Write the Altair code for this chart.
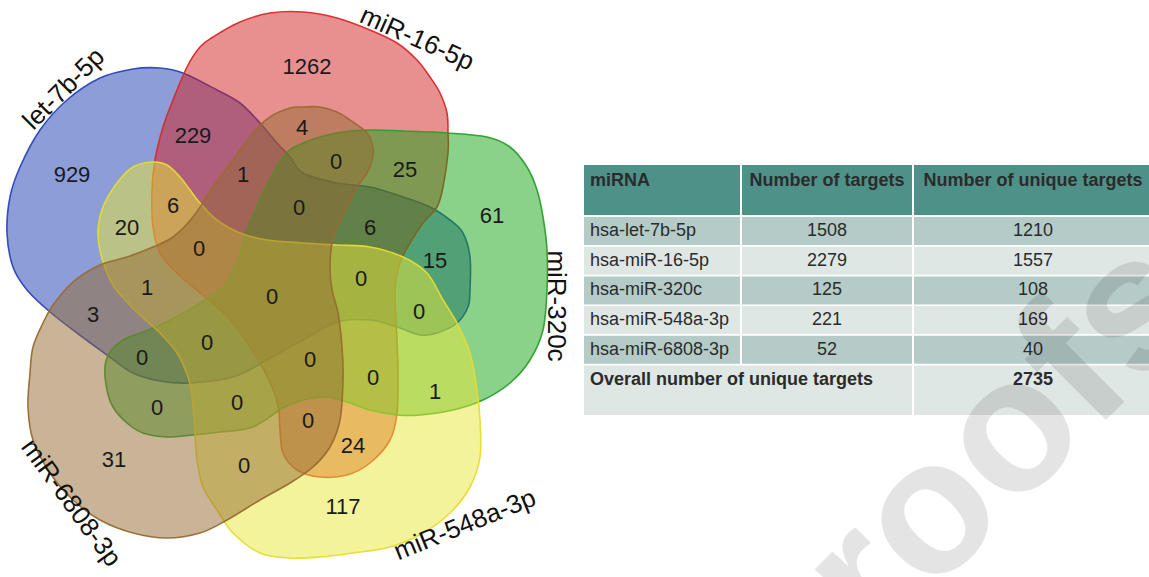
import altair as alt
import pandas as pd

W, H = 1149, 577
FONT = "Liberation Sans"

# ---------------- Venn outlines (closed smooth curves through control points) ----------------
blue_x = [160, 183, 217, 240, 260, 277, 290, 303, 337, 370, 403, 430, 450, 463, 470, 470, 468, 457, 437, 420,
          397, 370, 337, 303, 290, 267, 233, 190, 160, 133, 107, 77, 50, 27, 13, 7, 10, 20, 40, 67, 100, 133]
blue_y = [68, 73, 90, 103, 123, 143, 157, 173, 183, 187, 197, 207, 220, 233, 257, 290, 307, 323, 333, 335,
          327, 320, 322, 340, 347, 360, 377, 383, 381, 373, 355, 333, 312, 290, 267, 233, 197, 167, 130, 100, 78, 69]

red_x = [187, 200, 213, 240, 270, 303, 337, 370, 397, 417, 430, 440, 447, 448, 448, 443, 437, 423, 410, 400,
         395, 396, 398, 397, 390, 370, 347, 320, 297, 283, 280, 278, 268, 252, 233, 217, 200, 177, 160, 153,
         152, 155, 163, 173]
red_y = [67, 47, 37, 22, 13, 12, 18, 30, 43, 60, 77, 93, 113, 133, 153, 187, 207, 223, 243, 263,
         290, 320, 370, 413, 440, 463, 475, 477, 470, 453, 430, 405, 378, 350, 323, 307, 293, 273, 253, 227,
         190, 160, 127, 100]

green_x = [283, 303, 337, 370, 403, 447, 487, 510, 527, 537, 543, 547, 547, 543, 530, 510, 483, 453, 420, 397,
           370, 347, 327, 303, 283, 253, 220, 193, 167, 143, 127, 113, 107, 105, 110, 123, 140, 160, 185, 205,
           225, 238, 245, 262]
green_y = [157, 143, 133, 130, 131, 133, 137, 147, 167, 190, 217, 250, 290, 330, 360, 383, 400, 410, 415, 415,
           410, 402, 397, 400, 408, 427, 432, 435, 437, 433, 423, 407, 390, 367, 352, 340, 333, 325, 312, 300,
           285, 260, 235, 195]

yellow_x = [153, 167, 180, 190, 200, 217, 240, 267, 303, 337, 370, 403, 427, 443, 457, 470, 477, 480, 480, 470,
            450, 423, 390, 353, 320, 290, 260, 233, 217, 203, 197, 195, 192, 188, 177, 160, 143, 127, 113, 103,
            98, 103, 117, 133]
yellow_y = [162, 165, 177, 190, 203, 220, 233, 240, 243, 245, 247, 257, 273, 300, 323, 353, 390, 420, 457, 487,
            513, 533, 547, 553, 557, 558, 553, 533, 510, 487, 460, 433, 397, 377, 353, 333, 318, 302, 285, 262,
            233, 207, 183, 167]

brown_x = [290, 303, 320, 337, 353, 367, 373, 372, 367, 357, 347, 337, 332, 330, 332, 338, 342, 343, 340, 330,
           313, 290, 260, 227, 200, 167, 133, 100, 73, 50, 33, 28, 30, 33, 43, 53, 73, 100, 127, 153,
           173, 193, 213, 233, 253, 270]
brown_y = [108, 107, 107, 112, 122, 133, 147, 160, 173, 187, 207, 227, 243, 267, 290, 313, 347, 380, 420, 447,
           467, 483, 500, 520, 533, 538, 533, 520, 500, 473, 440, 407, 373, 347, 323, 305, 282, 265, 257, 247,
           237, 217, 187, 160, 133, 117]

# set name, outline, fill, stroke (drawing order)
set_names = ["let-7b-5p", "miR-16-5p", "miR-320c", "miR-548a-3p", "miR-6808-3p"]
set_fills = ["#1a3cb0", "#d21f1f", "#16a316", "#e8e838", "#946a32"]
set_strokes = ["#2a46b8", "#d82a2a", "#2aa02a", "#e6dc30", "#9a6a30"]
outlines = [(blue_x, blue_y), (red_x, red_y), (green_x, green_y), (yellow_x, yellow_y), (brown_x, brown_y)]

# set label placement
set_label_x = [64, 417, 556, 465, 71]
set_label_y = [89, 39, 306, 525, 503]
set_label_angle = [315, 24, 90, 338, 54]

# region counts
region_counts = [929, 229, 1262, 4, 0, 25, 61, 1, 6, 20, 0, 6, 15, 0, 0, 1, 0, 0, 3, 0,
                 0, 0, 0, 1, 0, 0, 0, 24, 31, 0, 117]
region_x = [72, 193, 307, 302, 336, 405, 492, 243, 173, 127, 299, 370, 435, 199, 361, 147, 272, 419, 93, 207,
            310, 142, 373, 435, 157, 237, 308, 353, 114, 244, 343]
region_y = [175, 136, 67, 128, 162, 170, 216, 175, 206, 228, 208, 228, 261, 249, 279, 288, 297, 312, 315, 343,
            360, 358, 378, 392, 408, 403, 421, 446, 460, 466, 507]

# ---------------- summary table ----------------
table_header = ["miRNA", "Number of targets", "Number of unique targets"]
mirna = ["hsa-let-7b-5p", "hsa-miR-16-5p", "hsa-miR-320c", "hsa-miR-548a-3p", "hsa-miR-6808-3p"]
n_targets = [1508, 2279, 125, 221, 52]
n_unique = [1210, 1557, 108, 169, 40]
overall_label = "Overall number of unique targets"
overall_unique = 2735

watermark = "Proofs"

X = alt.X("x:Q", scale=alt.Scale(domain=[0, W], nice=False, zero=False), axis=None)
Y = alt.Y("y:Q", scale=alt.Scale(domain=[0, H], nice=False, zero=False, reverse=True), axis=None)

layers = []

# table cells
col_edges = [584, 741, 913, 1160]
head_top, head_bot = 165, 215
row_top0, row_step, row_h = 217, 29.7, 28
cells = []
for c in range(3):
    cells.append(dict(x=col_edges[c] + (1 if c else 0), x2=col_edges[c + 1] - 1, y=head_top, y2=head_bot, fill="#4e9189"))
for r in range(len(mirna)):
    t = row_top0 + r * row_step
    color = "#b4cbc7" if r % 2 == 0 else "#dfe7e5"
    for c in range(3):
        cells.append(dict(x=col_edges[c] + (1 if c else 0), x2=col_edges[c + 1] - 1, y=t, y2=t + row_h, fill=color))
ov_top = row_top0 + len(mirna) * row_step
cells.append(dict(x=col_edges[0], x2=col_edges[2] - 1, y=ov_top, y2=415, fill="#dfe7e5"))
cells.append(dict(x=col_edges[2] + 1, x2=col_edges[3], y=ov_top, y2=415, fill="#dfe7e5"))
cells_df = pd.DataFrame(cells)
layers.append(
    alt.Chart(cells_df).mark_rect().encode(
        x=X, x2="x2:Q", y=Y, y2="y2:Q", fill=alt.Fill("fill:N", scale=None)
    )
)

# Venn sets
for (xs, ys), fill, stroke in zip(outlines, set_fills, set_strokes):
    df = pd.DataFrame({"x": xs, "y": ys, "i": list(range(len(xs)))})
    layers.append(
        alt.Chart(df).mark_line(
            interpolate="cardinal-closed", fill=fill, fillOpacity=0.5,
            stroke=stroke, strokeWidth=1.6, strokeOpacity=0.95
        ).encode(x=X, y=Y, order="i:Q")
    )

# region numbers
reg_df = pd.DataFrame({"x": region_x, "y": region_y, "t": [str(v) for v in region_counts]})
layers.append(
    alt.Chart(reg_df).mark_text(font=FONT, fontSize=22, color="#1a1a1a", baseline="middle", align="center")
    .encode(x=X, y=Y, text="t:N")
)

# set names
lab_df = pd.DataFrame({"x": set_label_x, "y": set_label_y, "t": set_names, "a": set_label_angle})
layers.append(
    alt.Chart(lab_df).mark_text(font=FONT, fontSize=26, color="#111111", baseline="middle", align="center")
    .encode(x=X, y=Y, text="t:N", angle=alt.Angle("a:Q", scale=None))
)

# table text
txt = []
txt.append(dict(x=590, y=181, t=table_header[0], al="left", b="bold"))
txt.append(dict(x=827, y=181, t=table_header[1], al="center", b="bold"))
txt.append(dict(x=1033, y=181, t=table_header[2], al="center", b="bold"))
for r, (m, n1, n2) in enumerate(zip(mirna, n_targets, n_unique)):
    yc = row_top0 + r * row_step + row_h / 2
    txt.append(dict(x=590, y=yc, t=m, al="left", b="normal"))
    txt.append(dict(x=827, y=yc, t=str(n1), al="center", b="normal"))
    txt.append(dict(x=1033, y=yc, t=str(n2), al="center", b="normal"))
txt.append(dict(x=590, y=380, t=overall_label, al="left", b="bold"))
txt.append(dict(x=1033, y=380, t=str(overall_unique), al="center", b="bold"))
txt_df = pd.DataFrame(txt)
for al in ["left", "center"]:
    for b in ["bold", "normal"]:
        sub = txt_df[(txt_df.al == al) & (txt_df.b == b)]
        if len(sub):
            layers.append(
                alt.Chart(sub).mark_text(font=FONT, fontSize=18, fontWeight=b, align=al, baseline="middle",
                                         color="#2b2b2b")
                .encode(x=X, y=Y, text="t:N")
            )

# watermark (runs off the lower edge)
wm_df = pd.DataFrame({"x": [1000], "y": [526], "t": [watermark]})
layers.append(
    alt.Chart(wm_df).mark_text(font=FONT, fontSize=190, fontWeight="bold", angle=315, color="#000000",
                               opacity=0.1, align="center", baseline="alphabetic")
    .encode(x=X, y=Y, text="t:N")
)

chart = alt.layer(*layers).properties(
    width=W, height=H, padding=0, autosize="none", background="white"
).configure_view(strokeWidth=0)

chart.save("out.html", embed_options={"renderer": "svg", "actions": False})
